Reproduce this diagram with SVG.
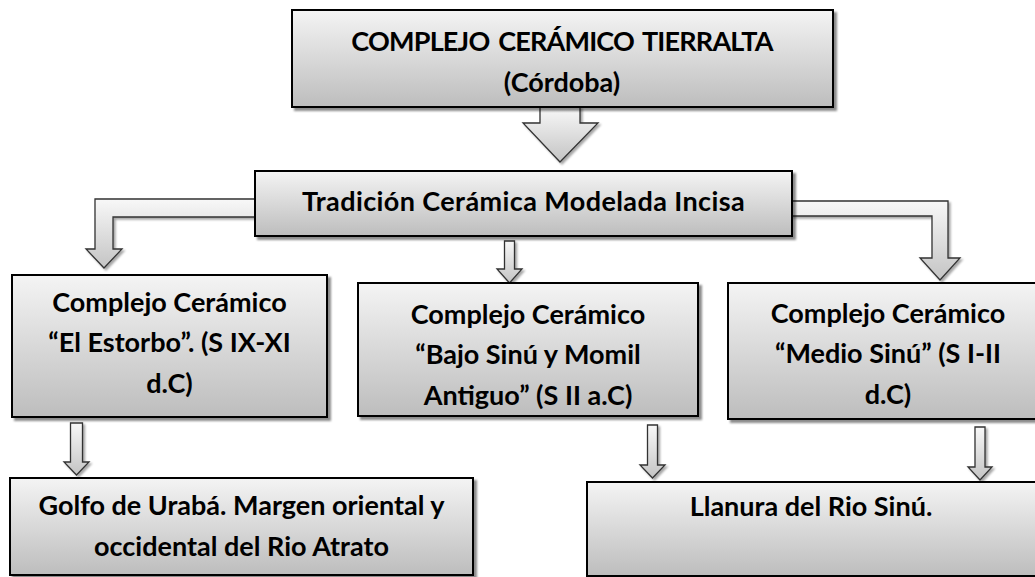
<svg xmlns="http://www.w3.org/2000/svg" width="1035" height="577" viewBox="0 0 1035 577">
<style>
.box{fill:url(#gb);stroke:#000;stroke-width:2;filter:url(#sh)}
.arr{fill:url(#ga);stroke:#333;stroke-width:1.3;stroke-linejoin:miter;filter:url(#sh2)}
text{font-family:Lato,"Liberation Sans",sans-serif;font-weight:bold;font-size:27px;fill:#000;text-anchor:middle}
.caps{letter-spacing:-0.8px;word-spacing:3px}
.wide{letter-spacing:0.4px}
</style>
<defs>
<linearGradient id="gb" x1="0" y1="0" x2="0" y2="1">
<stop offset="0" stop-color="#f4f4f4"/>
<stop offset="1" stop-color="#bdbdbd"/>
</linearGradient>
<linearGradient id="ga" x1="0" y1="0" x2="0" y2="1">
<stop offset="0" stop-color="#f8f8f8"/>
<stop offset="1" stop-color="#c4c4c4"/>
</linearGradient>
<filter id="sh" x="-5%" y="-5%" width="115%" height="120%">
<feDropShadow dx="3" dy="3" stdDeviation="1" flood-color="#000" flood-opacity="0.45"/>
</filter>
<filter id="sh2" x="-20%" y="-20%" width="150%" height="150%">
<feDropShadow dx="2" dy="2" stdDeviation="1" flood-color="#000" flood-opacity="0.35"/>
</filter>
</defs>
<g id="connectors">
<path class="arr" d="M540,107 L580,107 L580,123 L598,123 L560,162 L523,123 L540,123 Z"/>
<path class="arr" d="M256,199 L95,199 L95,249 L86,249 L104,268 L122,249 L113,249 L113,217 L256,217 Z"/>
<path class="arr" d="M791,201 L948,201 L948,258 L960,258 L940,280 L920,258 L932,258 L932,216 L791,216 Z"/>
<path class="arr" d="M504.5,241 L514.5,241 L514.5,269 L522,269 L509.5,283 L497,269 L504.5,269 Z"/>
<path class="arr" d="M70.5,423 L82.5,423 L82.5,462 L89,462 L76.5,475 L64,462 L70.5,462 Z"/>
<path class="arr" d="M647.5,425 L657.5,425 L657.5,465 L665,465 L652.5,478 L640,465 L647.5,465 Z"/>
<path class="arr" d="M975,427 L985,427 L985,467 L992,467 L980,480 L968,467 L975,467 Z"/>
</g>
<g id="n-top">
<rect class="box" x="292" y="10" width="541" height="97"/>
<text class="caps" x="562" y="51">COMPLEJO CERÁMICO TIERRALTA</text>
<text x="562" y="92">(Córdoba)</text>
</g>
<g id="n-trad">
<rect class="box" x="255" y="171" width="537" height="65"/>
<text class="wide" x="523.5" y="211">Tradición Cerámica Modelada Incisa</text>
</g>
<g id="n-estorbo">
<rect class="box" x="12" y="275" width="315" height="142"/>
<text x="169.5" y="312">Complejo Cerámico</text>
<text x="169.5" y="352">“El Estorbo”. (S IX-XI</text>
<text x="169.5" y="393">d.C)</text>
</g>
<g id="n-bajo">
<rect class="box" x="358" y="283" width="340" height="133"/>
<text x="528" y="324">Complejo Cerámico</text>
<text x="528" y="364">“Bajo Sinú y Momil</text>
<text x="528" y="405">Antiguo” (S II a.C)</text>
</g>
<g id="n-medio">
<rect class="box" x="728" y="283" width="320" height="136"/>
<text x="888" y="323">Complejo Cerámico</text>
<text x="888" y="363">“Medio Sinú” (S I-II</text>
<text x="888" y="404">d.C)</text>
</g>
<g id="n-golfo">
<rect class="box" x="10" y="478" width="463" height="97"/>
<text x="241.5" y="515">Golfo de Urabá. Margen oriental y</text>
<text x="241.5" y="556">occidental del Rio Atrato</text>
</g>
<g id="n-llanura">
<rect class="box" x="587" y="482" width="460" height="94"/>
<text x="811" y="516">Llanura del Rio Sinú.</text>
</g>
</svg>
